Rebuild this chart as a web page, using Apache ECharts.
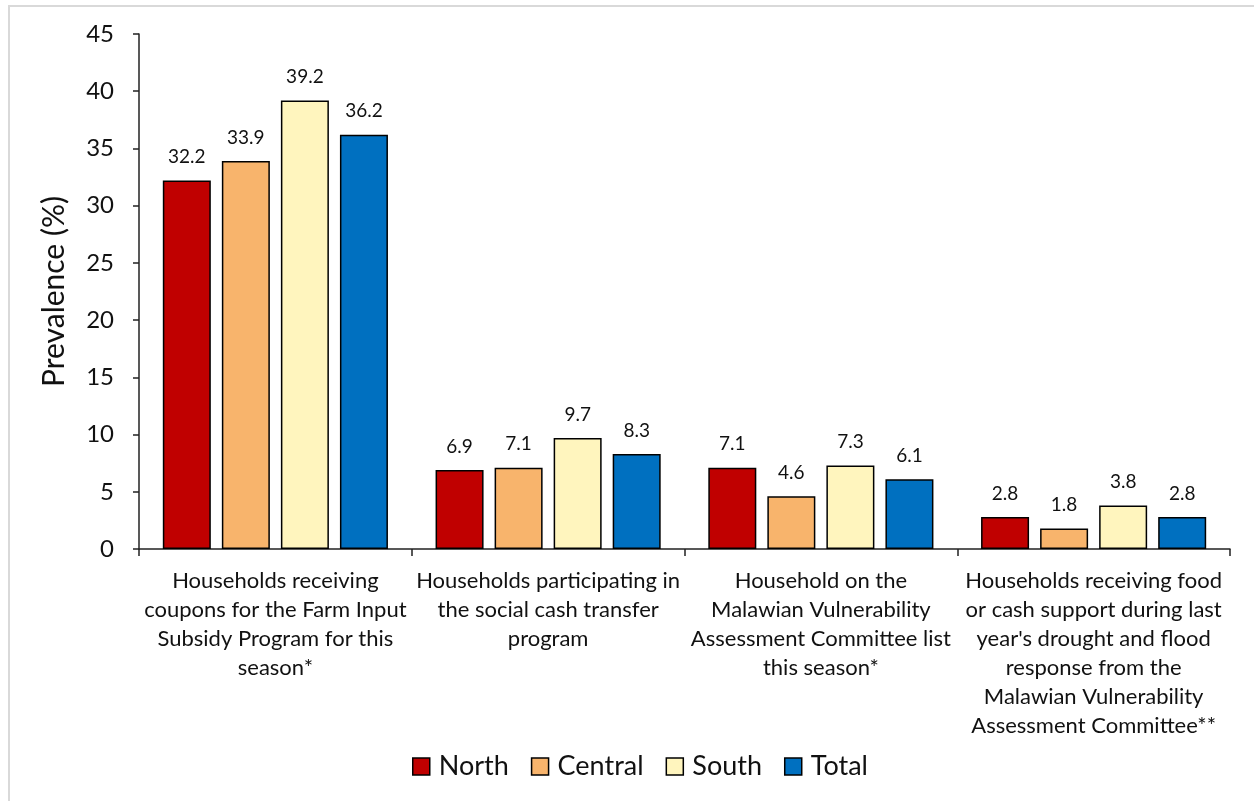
<!DOCTYPE html>
<html>
<head>
<meta charset="utf-8">
<script src="https://cdn.jsdelivr.net/npm/echarts@6/dist/echarts.min.js"></script>
<style>
  html, body { margin: 0; padding: 0; background: #fff; }
  #frame { position: absolute; left: 8px; top: 5px; right: -4px; bottom: -4px; border: 2px solid #d9d9d9; }
  #chart { position: absolute; left: 0; top: 0; width: 1254px; height: 801px; }
</style>
</head>
<body>
<div id="frame"></div>
<div id="chart"></div>
<script>
// Programme participation by region (%)
const categories = [
  "Households receiving\ncoupons for the Farm Input\nSubsidy Program for this\nseason*",
  "Households participating in\nthe social cash transfer\nprogram",
  "Household on the\nMalawian Vulnerability\nAssessment Committee list\nthis season*",
  "Households receiving food\nor cash support during last\nyear's drought and flood\nresponse from the\nMalawian Vulnerability\nAssessment Committee**"
];
const north   = [32.2, 6.9, 7.1, 2.8];
const central = [33.9, 7.1, 4.6, 1.8];
const south   = [39.2, 9.7, 7.3, 3.8];
const total   = [36.2, 8.3, 6.1, 2.8];
const seriesNames = ["North", "Central", "South", "Total"];
const seriesColors = ["#c00000", "#f8b46c", "#fff5be", "#0070c0"];

const FONT = "Lato, 'Open Sans', sans-serif";
const chart = echarts.init(document.getElementById('chart'), null, { renderer: 'canvas' });

function bar(name, data, color) {
  return {
    name: name,
    type: 'bar',
    data: data,
    barWidth: 48,
    barGap: '23%',
    itemStyle: { color: color, borderColor: '#000', borderWidth: 1.5 },
    label: {
      show: true,
      position: 'top',
      distance: 14,
      color: '#111',
      fontFamily: FONT,
      fontSize: 19,
      formatter: p => p.value.toFixed(1)
    }
  };
}

chart.setOption({
  animation: false,
  backgroundColor: 'transparent',
  grid: { left: 139, right: 24, top: 34, bottom: 252 },
  legend: {
    data: seriesNames,
    bottom: 16,
    left: 407,
    itemWidth: 17,
    itemHeight: 17,
    itemGap: 22,
    icon: 'rect',
    itemStyle: { borderColor: '#000', borderWidth: 1.5 },
    textStyle: { fontFamily: FONT, fontSize: 27, color: '#111', padding: [0, 0, 0, 4] }
  },
  xAxis: {
    type: 'category',
    data: categories,
    axisLine: { lineStyle: { color: '#222', width: 1.5 } },
    axisTick: { show: true, length: 7, alignWithLabel: false, lineStyle: { color: '#222', width: 1.5 } },
    axisLabel: {
      interval: 0,
      margin: 17,
      fontFamily: FONT,
      fontSize: 22,
      lineHeight: 29,
      color: '#111',
      align: 'center'
    }
  },
  yAxis: {
    type: 'value',
    min: 0,
    max: 45,
    interval: 5,
    name: 'Prevalence (%)',
    nameLocation: 'middle',
    nameGap: 70,
    nameTextStyle: { fontFamily: FONT, fontSize: 30, color: '#111' },
    axisLine: { show: true, lineStyle: { color: '#222', width: 1.5 } },
    axisTick: { show: true, length: 6, lineStyle: { color: '#222', width: 1.5 } },
    axisLabel: { fontFamily: FONT, fontSize: 24, color: '#111', margin: 25 },
    splitLine: { show: false }
  },
  series: [
    bar(seriesNames[0], north, seriesColors[0]),
    bar(seriesNames[1], central, seriesColors[1]),
    bar(seriesNames[2], south, seriesColors[2]),
    bar(seriesNames[3], total, seriesColors[3])
  ]
});
</script>
</body>
</html>
